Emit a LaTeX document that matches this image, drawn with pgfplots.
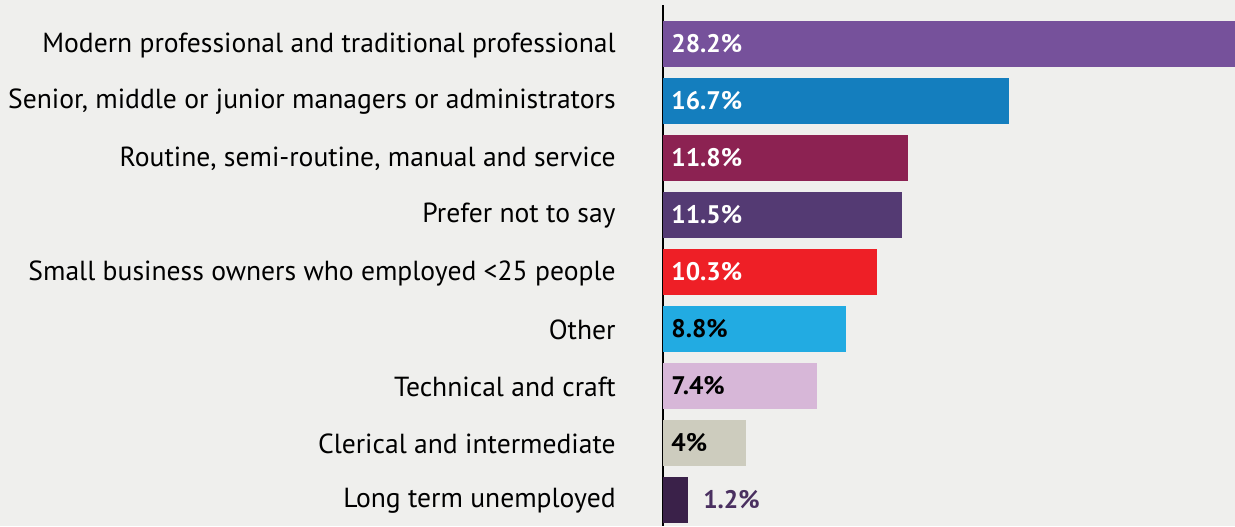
\documentclass[border=0pt]{standalone}
\usepackage{pgfplots}
\pgfplotsset{compat=1.18}
\usepackage{fontspec}
\setmainfont{PT Sans}

\definecolor{bg}{HTML}{EFEFED}
\definecolor{cA}{HTML}{76519B}
\definecolor{cB}{HTML}{147EBE}
\definecolor{cC}{HTML}{8C2252}
\definecolor{cD}{HTML}{543A73}
\definecolor{cE}{HTML}{EE1F26}
\definecolor{cF}{HTML}{22ABE2}
\definecolor{cG}{HTML}{D7B7D8}
\definecolor{cH}{HTML}{CDCCBE}
\definecolor{cI}{HTML}{3A2149}
\definecolor{lblI}{HTML}{4A3060}

\begin{document}
\begin{tikzpicture}[x=1pt,y=1pt]
\fill[bg] (0,0) rectangle (617.5,263);
\useasboundingbox (0,0) rectangle (617.5,263);
\begin{axis}[
  at={(331.5pt,0pt)}, anchor=south west,
  scale only axis, width=286pt, height=260.5pt,
  xbar, bar width=23pt, bar shift=0pt,
  xmin=0, xmax=27.57,
  ymin=-0.684, ymax=8.456, y dir=reverse,
  axis x line=none, axis y line=left,
  y axis line style={-, black, line width=0.8pt},
  ytick={0,...,8},
  yticklabels={Modern professional and traditional professional,
    {Senior, middle or junior managers or administrators},
    {Routine, semi-routine, manual and service},
    Prefer not to say,
    Small business owners who employed <25 people,
    Other, Technical and craft, Clerical and intermediate,
    Long term unemployed},
  ytick style={draw=none},
  major tick length=0pt,
  yticklabel style={font=\fontsize{13.8}{16}\selectfont, inner sep=0pt, xshift=-23.5pt, yshift=-0.5pt, anchor=east, text=black},
  every axis plot/.append style={draw=none, bar shift=0pt, bar width=23pt},
  clip=true,
]
\addplot[fill=cA] coordinates {(28.2,0)};
\addplot[fill=cB] coordinates {(16.7,1)};
\addplot[fill=cC] coordinates {(11.8,2)};
\addplot[fill=cD] coordinates {(11.5,3)};
\addplot[fill=cE] coordinates {(10.3,4)};
\addplot[fill=cF] coordinates {(8.8,5)};
\addplot[fill=cG] coordinates {(7.4,6)};
\addplot[fill=cH] coordinates {(4,7)};
\addplot[fill=cI] coordinates {(1.2,8)};

\tikzset{val/.style={anchor=west, inner sep=0pt, xshift=4pt, font=\fontsize{12.7}{14}\selectfont\bfseries}}
\node[val, text=white] at (axis cs:0,0) {28.2\%};
\node[val, text=white] at (axis cs:0,1) {16.7\%};
\node[val, text=white] at (axis cs:0,2) {11.8\%};
\node[val, text=white] at (axis cs:0,3) {11.5\%};
\node[val, text=white] at (axis cs:0,4) {10.3\%};
\node[val, text=black] at (axis cs:0,5) {8.8\%};
\node[val, text=black] at (axis cs:0,6) {7.4\%};
\node[val, text=black] at (axis cs:0,7) {4\%};
\node[val, text=lblI, xshift=3.5pt] at (axis cs:1.2,8) {1.2\%};
\end{axis}
\end{tikzpicture}
\end{document}
